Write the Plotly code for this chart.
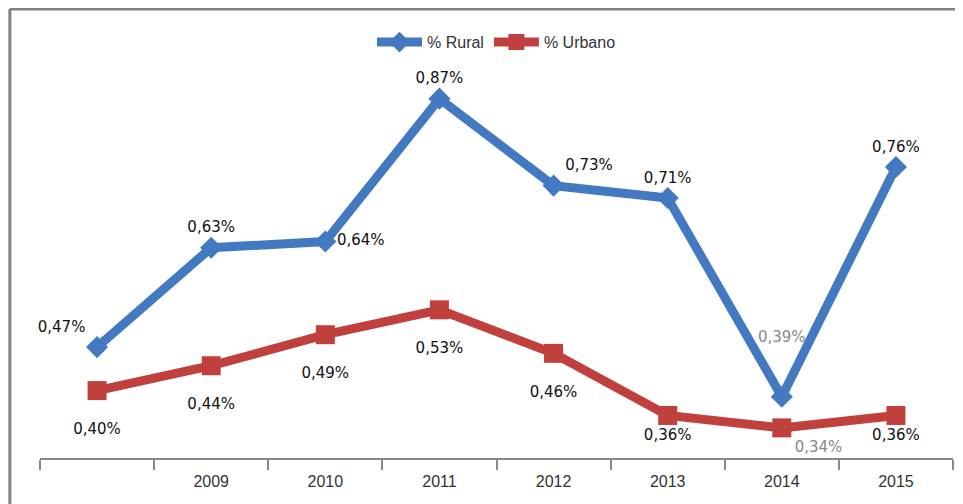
import plotly.graph_objects as go

categories = ["2008", "2009", "2010", "2011", "2012", "2013", "2014", "2015"]
tick_labels = ["", "2009", "2010", "2011", "2012", "2013", "2014", "2015"]
rural = [0.47, 0.63, 0.64, 0.87, 0.73, 0.71, 0.39, 0.76]
urbano = [0.40, 0.44, 0.49, 0.53, 0.46, 0.36, 0.34, 0.36]

rural_pos = ["top left", "top center", "middle right", "top center",
             "top right", "top center", "top center", "top center"]
urbano_pos = ["bottom center"] * 6 + ["bottom right", "bottom center"]
# extra blank lines push a label further from its point
rural_pad = [0, 0, 0, 0, 0, 0, 2, 0]
urbano_pad = [1, 1, 1, 1, 1, 0, 0, 0]
rural_lab_col = ["#111"] * 6 + ["#888"] + ["#111"]
urbano_lab_col = ["#111"] * 6 + ["#888"] + ["#111"]

BLUE = "#4279c0"
RED = "#c0403d"


def fmt(v):
    return f"{v:.2f}".replace(".", ",") + "%"


rural_text = [fmt(v) + "<br> " * p for v, p in zip(rural, rural_pad)]
urbano_text = [" <br>" * p + fmt(v) for v, p in zip(urbano, urbano_pad)]

fig = go.Figure()
fig.add_trace(go.Scatter(
    x=categories, y=rural, name="% Rural", mode="lines+markers+text",
    line=dict(color=BLUE, width=9),
    marker=dict(symbol="diamond", size=17, color=BLUE),
    text=rural_text, textposition=rural_pos,
    textfont=dict(size=15, color=rural_lab_col, family="DejaVu Sans"),
    cliponaxis=False,
))
fig.add_trace(go.Scatter(
    x=categories, y=urbano, name="% Urbano", mode="lines+markers+text",
    line=dict(color=RED, width=9),
    marker=dict(symbol="square", size=19, color=RED),
    text=urbano_text, textposition=urbano_pos,
    textfont=dict(size=15, color=urbano_lab_col, family="DejaVu Sans"),
    cliponaxis=False,
))

# page body has an 8px margin, so the figure is 8px smaller and margins shifted
fig.update_layout(
    width=955, height=496,
    margin=dict(l=32, r=10, t=72, b=46, autoexpand=False),
    paper_bgcolor="white", plot_bgcolor="white",
    font=dict(family="Liberation Sans Narrow, Liberation Sans, Arial", color="#333"),
    showlegend=True,
    legend=dict(orientation="h", x=0.5, xanchor="center", y=1.10, yanchor="middle",
                font=dict(size=16, color="#333"), itemwidth=45, tracegroupgap=0,
                bgcolor="rgba(0,0,0,0)"),
    xaxis=dict(
        type="category", tickmode="array", tickvals=categories, ticktext=tick_labels,
        tickson="boundaries", ticks="outside", ticklen=10, tickcolor="#888", tickwidth=2,
        showline=True, linecolor="#888", linewidth=2, showgrid=False, zeroline=False,
        ticklabelstandoff=8, tickfont=dict(size=16, color="#333"),
        range=[-0.5, 7.5],
    ),
    yaxis=dict(range=[0.2915, 0.9], showticklabels=False, ticks="", showline=False,
               showgrid=False, zeroline=False),
    shapes=[
        dict(type="line", xref="paper", yref="paper", x0=-0.033, x1=-0.033,
             y0=-0.13, y1=1.188, line=dict(color="#808080", width=3)),
        dict(type="line", xref="paper", yref="paper", x0=-0.033, x1=1.05,
             y0=1.188, y1=1.188, line=dict(color="#808080", width=3)),
    ],
)

fig.write_html("out.html")
